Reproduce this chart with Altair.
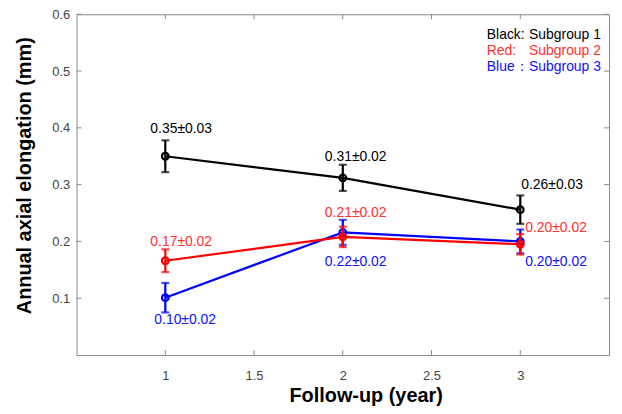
import altair as alt
import pandas as pd

# ---- data ----
years = [1, 2, 3]
series_names = ["Subgroup 1", "Subgroup 2", "Subgroup 3"]
black_mean = [0.350, 0.312, 0.256]
black_err = [0.028, 0.023, 0.025]
red_mean = [0.166, 0.208, 0.195]
red_err = [0.020, 0.018, 0.018]
blue_mean = [0.101, 0.216, 0.200]
blue_err = [0.026, 0.022, 0.021]
black_labels = ["0.35±0.03", "0.31±0.02", "0.26±0.03"]
red_labels = ["0.17±0.02", "0.21±0.02", "0.20±0.02"]
blue_labels = ["0.10±0.02", "0.22±0.02", "0.20±0.02"]
x_ticks = [1, 1.5, 2, 2.5, 3]
y_ticks = [0.1, 0.2, 0.3, 0.4, 0.5, 0.6]
legend_names = ["Black:", "Red:", "Blue："]

# ---- styles ----
TOP = 5
W, H = 536, 343
FONT = "Liberation Sans"
AXIS_GRAY = "#8a8a8a"
line_colors = {"black": "#000000", "red": "#ff0000", "blue": "#0000ff"}
text_colors = {"black": "#000000", "red": "#ff3030", "blue": "#1010ff"}
label_offsets = {
    "black": [(16, -27), (13, -21), (32, -25)],
    "red": [(16, -19), (13, -24), (36, -16)],
    "blue": [(20, 23), (13, 30), (36, 21)],
}
legend_rows_y = [34 - 8 - TOP, 50 - 8 - TOP, 65.7 - 8 - TOP]
legend_keys = ["black", "red", "blue"]

xscale = alt.Scale(domain=[0.5, 3.5], nice=False, zero=False)
yscale = alt.Scale(domain=[0, 0.6], nice=False, zero=False)

x_axis = alt.Axis(values=x_ticks, format="~g", ticks=False, domain=False, grid=False,
                  labelFontSize=13, labelFont=FONT, labelColor="#444444", labelPadding=15,
                  title="Follow-up (year)", titleFont=FONT, titleFontSize=20, titleFontWeight="bold",
                  titleColor="#000000", titleX=291, titleY=41, titleAlign="center", titleBaseline="middle")
y_axis = alt.Axis(values=y_ticks, format=".1f", ticks=False, domain=False, grid=False,
                  labelFontSize=13, labelFont=FONT, labelColor="#444444", labelPadding=7,
                  title="Annual axial elongation (mm)", titleFont=FONT, titleFontSize=20,
                  titleFontWeight="bold", titleColor="#000000", titleX=-52, titleY=162,
                  titleAngle=270, titleAlign="center", titleBaseline="middle")


def make_df(means, errs, labels):
    df = pd.DataFrame({"year": years, "mean": means, "err": errs, "label": labels})
    df["lo"] = df["mean"] - df["err"]
    df["hi"] = df["mean"] + df["err"]
    return df


def X(field):
    return alt.X(field, scale=xscale, axis=x_axis)


def Y(field):
    return alt.Y(field, scale=yscale, axis=y_axis)


def series_layers(df, key):
    col = line_colors[key]
    base = alt.Chart(df)
    line = base.mark_line(color=col, strokeWidth=2.2).encode(x=X("year:Q"), y=Y("mean:Q"))
    bar = base.mark_rule(color=col, strokeWidth=2.2).encode(x=X("year:Q"), y=Y("lo:Q"), y2="hi:Q")
    cap_lo = base.mark_tick(color=col, thickness=2.2, size=8, orient="horizontal").encode(
        x=X("year:Q"), y=Y("lo:Q"))
    cap_hi = base.mark_tick(color=col, thickness=2.2, size=8, orient="horizontal").encode(
        x=X("year:Q"), y=Y("hi:Q"))
    pts = base.mark_point(shape="circle", filled=False, color=col, size=45, strokeWidth=2.2,
                          opacity=1).encode(x=X("year:Q"), y=Y("mean:Q"))
    return [line, bar, cap_lo, cap_hi, pts]


def label_layers(df, key):
    out = []
    for i, (dx, dy) in enumerate(label_offsets[key]):
        sub = df.iloc[[i]]
        out.append(alt.Chart(sub).mark_text(font=FONT, fontSize=14, color=text_colors[key],
                                            dx=dx, dy=dy, align="center", baseline="middle").encode(
            x=X("year:Q"), y=Y("mean:Q"), text="label:N"))
    return out


df_black = make_df(black_mean, black_err, black_labels)
df_red = make_df(red_mean, red_err, red_labels)
df_blue = make_df(blue_mean, blue_err, blue_labels)

layers = []
layers += series_layers(df_black, "black")
layers += series_layers(df_blue, "blue")
layers += series_layers(df_red, "red")
layers += label_layers(df_black, "black")
layers += label_layers(df_red, "red")
layers += label_layers(df_blue, "blue")

# inward ticks on all four sides
xt = pd.DataFrame({"year": x_ticks})
yt = pd.DataFrame({"mean": y_ticks})
layers.append(alt.Chart(xt).mark_rule(color=AXIS_GRAY, strokeWidth=1).encode(
    x=X("year:Q"), y=alt.value(H), y2=alt.value(H - 5)))
layers.append(alt.Chart(xt).mark_rule(color=AXIS_GRAY, strokeWidth=1).encode(
    x=X("year:Q"), y=alt.value(0), y2=alt.value(5)))
layers.append(alt.Chart(yt).mark_rule(color=AXIS_GRAY, strokeWidth=1).encode(
    y=Y("mean:Q"), x=alt.value(0), x2=alt.value(5)))
layers.append(alt.Chart(yt).mark_rule(color=AXIS_GRAY, strokeWidth=1).encode(
    y=Y("mean:Q"), x=alt.value(W), x2=alt.value(W - 5)))

# legend text block (top right)
for name, sub, key, ry in zip(legend_names, series_names, legend_keys, legend_rows_y):
    d = pd.DataFrame({"name": [name], "sub": [sub]})
    layers.append(alt.Chart(d).mark_text(font=FONT, fontSize=14, align="left", baseline="middle",
                                         color=text_colors[key]).encode(
        x=alt.value(413), y=alt.value(ry), text="name:N"))
    layers.append(alt.Chart(d).mark_text(font=FONT, fontSize=14, align="left", baseline="middle",
                                         color=text_colors[key]).encode(
        x=alt.value(455.5), y=alt.value(ry), text="sub:N"))

chart = alt.layer(*layers).properties(
    width=W, height=H, autosize=alt.AutoSizeParams(type="none"),
    padding={"left": 69, "top": TOP, "right": 5, "bottom": 50},
    background="white",
).configure_view(stroke=AXIS_GRAY, strokeWidth=1)

chart.save("out.html", embed_options={"renderer": "svg", "actions": False})
